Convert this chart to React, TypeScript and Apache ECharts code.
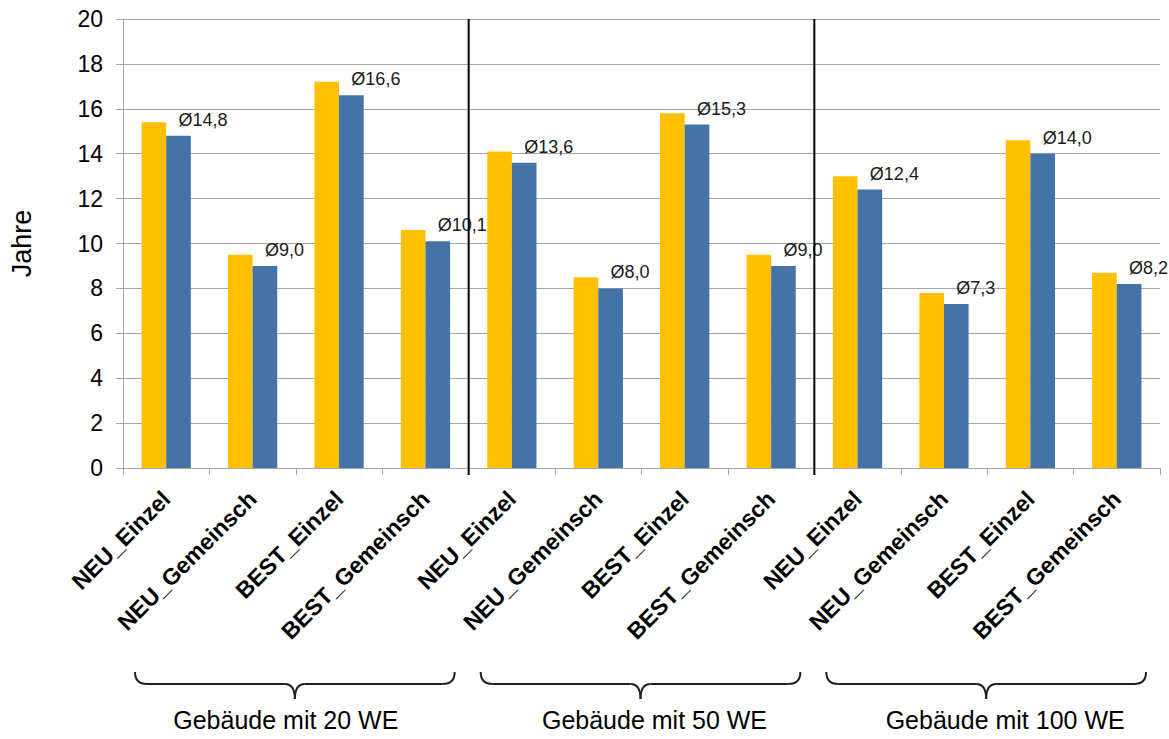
import { useEffect, useRef } from "react";
import * as echarts from "echarts";

// Kategorien je Gebäudegröße
const subCategories = ["NEU_Einzel", "NEU_Gemeinsch", "BEST_Einzel", "BEST_Gemeinsch"];
const groupLabels = ["Gebäude mit 20 WE", "Gebäude mit 50 WE", "Gebäude mit 100 WE"];
const categories = groupLabels.flatMap(() => subCategories);

// Amortisationszeiten in Jahren
const yellowValues = [15.4, 9.5, 17.2, 10.6, 14.1, 8.5, 15.8, 9.5, 13.0, 7.8, 14.6, 8.7];
const blueValues = [14.8, 9.0, 16.6, 10.1, 13.6, 8.0, 15.3, 9.0, 12.4, 7.3, 14.0, 8.2];

const yMin = 0;
const yMax = 20;
const yInterval = 2;

// Layout constants for the decorations below the axis
const FONT = "'Liberation Sans', Arial, Helvetica, sans-serif";
const BRACE_INSET_L = 12;
const BRACE_INSET_R = 14;
const BRACE_TOP = 204;
const BRACE_MID = 216;
const BRACE_TIP = 231;
const LABEL_Y = 252;
const labelNudge = [-10, 13, 18];

export default function App() {
  const ref = useRef<HTMLDivElement>(null);

  useEffect(() => {
    const el = ref.current;
    if (!el) return;
    const chart = echarts.init(el, null, { renderer: "svg" });

    chart.setOption({
      animation: false,
      backgroundColor: "#ffffff",
      grid: { left: 123, right: 9, top: 19, bottom: 271, containLabel: false },
      xAxis: {
        type: "category",
        data: categories,
        axisLine: { show: true, lineStyle: { color: "#a6a6a6", width: 1 } },
        axisTick: { show: true, length: 7, lineStyle: { color: "#a6a6a6" } },
        axisLabel: {
          interval: 0,
          rotate: 45,
          margin: 27,
          fontFamily: FONT,
          fontSize: 23,
          fontWeight: "bold",
          color: "#000000",
        },
      },
      yAxis: {
        type: "value",
        min: yMin,
        max: yMax,
        interval: yInterval,
        name: "Jahre",
        nameLocation: "middle",
        nameGap: 88,
        nameTextStyle: { fontFamily: FONT, fontSize: 27, color: "#000000" },
        axisLine: { show: true, lineStyle: { color: "#a6a6a6", width: 1 } },
        axisTick: { show: true, length: 7, lineStyle: { color: "#a6a6a6" } },
        axisLabel: { margin: 20, fontFamily: FONT, fontSize: 23, color: "#000000" },
        splitLine: { show: true, lineStyle: { color: "#a6a6a6", width: 1 } },
      },
      series: [
        {
          type: "bar",
          data: yellowValues,
          barGap: "0%",
          barCategoryGap: "43%",
          itemStyle: { color: "#FFC000" },
        },
        {
          type: "bar",
          data: blueValues,
          barGap: "0%",
          barCategoryGap: "43%",
          itemStyle: { color: "#4572A7" },
          label: {
            show: true,
            position: ["50%", -16],
            align: "left",
            verticalAlign: "middle",
            fontFamily: FONT,
            fontSize: 18,
            color: "#1a1a1a",
            formatter: (p: any) => "Ø" + Number(p.value).toFixed(1).replace(".", ","),
          },
        },
      ],
    });

    // Separators between building groups and curly braces with group titles
    const px = (i: number) => chart.convertToPixel({ xAxisIndex: 0 }, i) as number;
    const yTop = chart.convertToPixel({ yAxisIndex: 0 }, yMax) as number;
    const yBase = chart.convertToPixel({ yAxisIndex: 0 }, yMin) as number;
    const bw = px(1) - px(0);
    const n = subCategories.length;
    const graphics: any[] = [];
    const stroke = { stroke: "#1f1f1f", lineWidth: 2, fill: null };

    groupLabels.forEach((label, g) => {
      const gl = px(g * n) - bw / 2;
      const gr = px(g * n + n - 1) + bw / 2;
      if (g > 0) {
        graphics.push({
          type: "line",
          z: 100,
          shape: { x1: gl, y1: yTop, x2: gl, y2: yBase + 7 },
          style: { stroke: "#000000", lineWidth: 2 },
        });
      }
      const L = gl + BRACE_INSET_L;
      const R = gr - BRACE_INSET_R;
      const C = (L + R) / 2;
      const t = yBase + BRACE_TOP;
      const m = yBase + BRACE_MID;
      const b = yBase + BRACE_TIP;
      const r = 12;
      const r2 = 10;
      graphics.push(
        { type: "bezierCurve", shape: { x1: L, y1: t, x2: L + r, y2: m, cpx1: L, cpy1: m }, style: stroke },
        { type: "line", shape: { x1: L + r, y1: m, x2: C - r2, y2: m }, style: stroke },
        { type: "bezierCurve", shape: { x1: C - r2, y1: m, x2: C, y2: b, cpx1: C, cpy1: m }, style: stroke },
        { type: "bezierCurve", shape: { x1: C + r2, y1: m, x2: C, y2: b, cpx1: C, cpy1: m }, style: stroke },
        { type: "line", shape: { x1: C + r2, y1: m, x2: R - r, y2: m }, style: stroke },
        { type: "bezierCurve", shape: { x1: R, y1: t, x2: R - r, y2: m, cpx1: R, cpy1: m }, style: stroke },
        {
          type: "text",
          x: (gl + gr) / 2 + labelNudge[g],
          y: yBase + LABEL_Y,
          style: {
            text: label,
            fontFamily: FONT,
            fontSize: 25,
            fill: "#000000",
            align: "center",
            verticalAlign: "middle",
          },
        }
      );
    });

    chart.setOption({ graphic: { elements: graphics } });

    return () => chart.dispose();
  }, []);

  return (
    <div
      ref={ref}
      style={{ position: "fixed", left: 0, top: 0, width: 1169, height: 739 }}
    />
  );
}
